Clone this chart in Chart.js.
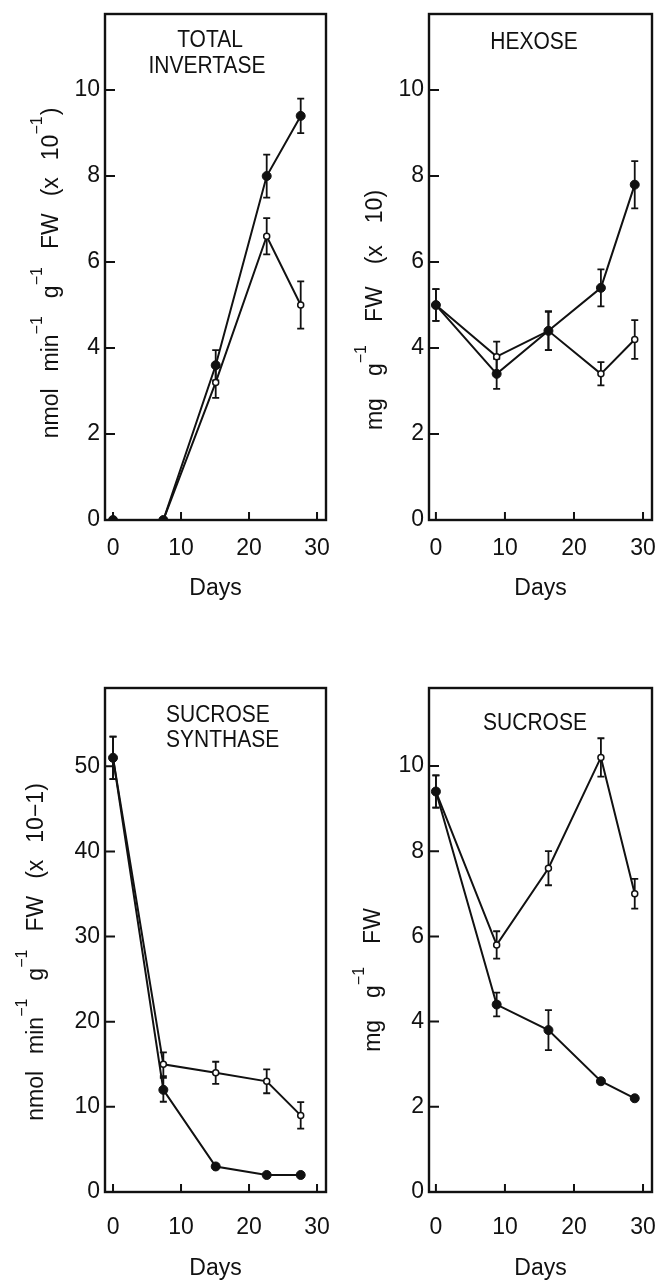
<!DOCTYPE html>
<html lang="en">
<head>
<meta charset="UTF-8">
<title>Invertase, sucrose synthase and sugars</title>
<style>
  body { margin: 0; background: #fff; }
  .wrap { position: relative; width: 657px; height: 1282px; }
  .wrap canvas { position: absolute; }
</style>
</head>
<body>
<div class="wrap">
  <canvas id="inv" width="330" height="640" style="left:0;top:0"></canvas>
  <canvas id="hex" width="327" height="640" style="left:330px;top:0"></canvas>
  <canvas id="sus" width="330" height="642" style="left:0;top:640px"></canvas>
  <canvas id="suc" width="327" height="642" style="left:330px;top:640px"></canvas>
</div>
<script src="https://cdn.jsdelivr.net/npm/chart.js"></script>
<script>
// sampling days (left column / right column)
const daysLeft = [0, 7.4, 15.1, 22.6, 27.6];
const daysRight = [0, 8.8, 16.3, 23.9, 28.8];

// total invertase, nmol min-1 g-1 FW (x 10-1)
const invFilled = [0, 0, 3.6, 8.0, 9.4];
const invFilledErr = [0, 0, 0.35, 0.5, 0.4];
const invOpen = [0, 0, 3.2, 6.6, 5.0];
const invOpenErr = [0, 0, 0.36, 0.42, 0.55];

// hexose, mg g-1 FW (x 10)
const hexFilled = [5.0, 3.4, 4.4, 5.4, 7.8];
const hexFilledErr = [0.37, 0.35, 0.45, 0.43, 0.55];
const hexOpen = [5.0, 3.8, 4.4, 3.4, 4.2];
const hexOpenErr = [0.37, 0.35, 0.45, 0.27, 0.45];

// sucrose synthase, nmol min-1 g-1 FW (x 10-1)
const susFilled = [51, 12, 3, 2, 2];
const susFilledErr = [2.5, 1.4, 0, 0, 0];
const susOpen = [51, 15, 14, 13, 9];
const susOpenErr = [2.5, 1.4, 1.3, 1.4, 1.55];

// sucrose, mg g-1 FW
const sucFilled = [9.4, 4.4, 3.8, 2.6, 2.2];
const sucFilledErr = [0.38, 0.28, 0.47, 0, 0];
const sucOpen = [9.4, 5.8, 7.6, 10.2, 7.0];
const sucOpenErr = [0.38, 0.32, 0.4, 0.45, 0.35];

const dayTicks = [0, 10, 20, 30];
const smallTicks = [0, 2, 4, 6, 8, 10];
const susTicks = [0, 10, 20, 30, 40, 50];

const INK = '#111';
const FAMILY = '"Liberation Sans", Arial, sans-serif';

Chart.defaults.font.family = FAMILY;
Chart.defaults.color = INK;

// error bars underneath, frame / inward ticks / labels on top
const framePlugin = {
  id: 'frame',
  beforeDatasetsDraw(chart) {
    const ctx = chart.ctx, xs = chart.scales.x, ys = chart.scales.y;
    ctx.save();
    ctx.strokeStyle = INK;
    ctx.lineWidth = 1.8;
    chart.data.datasets.forEach(ds => {
      ds.err.forEach((e, i) => {
        if (!e) return;
        const p = ds.data[i];
        const x = xs.getPixelForValue(p.x);
        const y1 = ys.getPixelForValue(p.y + e);
        const y2 = ys.getPixelForValue(p.y - e);
        ctx.beginPath();
        ctx.moveTo(x, y1); ctx.lineTo(x, y2);
        ctx.moveTo(x - 3.5, y1); ctx.lineTo(x + 3.5, y1);
        ctx.moveTo(x - 3.5, y2); ctx.lineTo(x + 3.5, y2);
        ctx.stroke();
      });
    });
    ctx.restore();
  },
  afterDraw(chart, args, opts) {
    const ctx = chart.ctx, a = chart.chartArea;
    const xs = chart.scales.x, ys = chart.scales.y;
    ctx.save();
    ctx.strokeStyle = INK;
    ctx.lineWidth = 2.4;
    ctx.strokeRect(a.left, a.top, a.right - a.left, a.bottom - a.top);
    ctx.lineWidth = 2;
    ctx.beginPath();
    xs.ticks.forEach(t => {
      const x = xs.getPixelForValue(t.value);
      ctx.moveTo(x, a.bottom); ctx.lineTo(x, a.bottom - 8);
    });
    ys.ticks.forEach(t => {
      const y = ys.getPixelForValue(t.value);
      ctx.moveTo(a.left, y); ctx.lineTo(a.left + 10, y);
    });
    ctx.stroke();

    // panel title, slightly tall lettering
    ctx.fillStyle = INK;
    ctx.font = '21px ' + FAMILY;
    ctx.textBaseline = 'middle';
    ctx.textAlign = opts.titleAlign;
    opts.title.forEach(([t, x, y]) => {
      ctx.save();
      ctx.translate(x, y);
      ctx.scale(1, 1.13);
      ctx.fillText(t, 0, 0);
      ctx.restore();
    });

    drawVerticalTitle(ctx, opts.yTitle);
    ctx.restore();
  }
};

// rotated axis label; ^{..} marks a superscript
function drawVerticalTitle(ctx, spec) {
  const fMain = '23px ' + FAMILY, fSup = '16px ' + FAMILY;
  const words = spec.text.split(' ').map(w =>
    w.split(/(\^\{[^}]*\})/).filter(s => s).map(s =>
      s.startsWith('^{') ? { t: s.slice(2, -1), sup: true } : { t: s, sup: false }));
  let total = 0;
  words.forEach((w, i) => {
    w.forEach(p => {
      ctx.font = p.sup ? fSup : fMain;
      p.w = ctx.measureText(p.t).width + (p.sup ? 1 : 0);
      total += p.w;
    });
    if (i) total += spec.gap;
  });
  ctx.save();
  ctx.translate(spec.x, spec.y);
  ctx.rotate(-Math.PI / 2);
  ctx.textAlign = 'left';
  ctx.textBaseline = 'alphabetic';
  let pos = -total / 2;
  words.forEach((w, i) => {
    if (i) pos += spec.gap;
    w.forEach(p => {
      ctx.font = p.sup ? fSup : fMain;
      ctx.fillText(p.t, pos, p.sup ? -16 : 0);
      pos += p.w;
    });
  });
  ctx.restore();
}

function series(days, vals, errs, filled) {
  return {
    data: days.map((d, i) => ({ x: d, y: vals[i] })),
    err: errs,
    borderColor: INK,
    borderWidth: 2,
    pointRadius: filled ? 4.5 : 3,
    pointBackgroundColor: filled ? INK : '#fff',
    pointBorderColor: INK,
    pointBorderWidth: filled ? 1 : 1.5,
    tension: 0,
    fill: false
  };
}

// keep scales from pushing the plot frame around
function noPad(s) {
  s.paddingLeft = 0; s.paddingRight = 0;
  s.paddingTop = 0; s.paddingBottom = 0;
}

function panel(id, p) {
  const cv = document.getElementById(id);
  const W = cv.width, H = cv.height;
  return new Chart(cv, {
    type: 'line',
    data: {
      datasets: [
        series(p.days, p.filled, p.filledErr, true),
        series(p.days, p.open, p.openErr, false)
      ]
    },
    options: {
      responsive: false,
      animation: false,
      devicePixelRatio: 1,
      layout: { autoPadding: false, padding: { left: 0, top: p.box[2], right: W - p.box[1], bottom: 0 } },
      plugins: {
        legend: { display: false },
        tooltip: { enabled: false },
        frame: { title: p.title, titleAlign: p.titleAlign, yTitle: p.yTitle }
      },
      scales: {
        x: {
          type: 'linear',
          min: p.xRange[0], max: p.xRange[1],
          afterBuildTicks: s => { s.ticks = dayTicks.map(v => ({ value: v })); },
          afterFit: s => { s.height = H - p.box[3]; noPad(s); },
          grid: { display: false, drawTicks: false },
          border: { display: false },
          ticks: { font: { size: 23 }, color: INK, padding: p.xPad, maxRotation: 0 },
          title: { display: true, text: 'Days', font: { size: 23 }, color: INK, padding: { top: 0, bottom: p.daysPad } }
        },
        y: {
          type: 'linear',
          min: 0, max: p.yMax,
          afterBuildTicks: s => { s.ticks = p.yTicks.map(v => ({ value: v })); },
          afterFit: s => { s.width = p.box[0]; noPad(s); },
          grid: { display: false, drawTicks: false },
          border: { display: false },
          ticks: { font: { size: 23 }, color: INK, padding: 5 }
        }
      }
    },
    plugins: [framePlugin]
  });
}

// box = [left, right, top, bottom] of the plotting frame inside each canvas
panel('inv', {
  days: daysLeft, filled: invFilled, filledErr: invFilledErr, open: invOpen, openErr: invOpenErr,
  box: [105, 326, 14, 520], xRange: [-1.18, 31.32], yMax: 11.77, yTicks: smallTicks,
  xPad: 15, daysPad: 38,
  title: [['TOTAL', 210, 40], ['INVERTASE', 207, 66]], titleAlign: 'center',
  yTitle: { text: 'nmol min^{−1} g^{−1} FW (x 10^{−1})', x: 58, y: 273, gap: 17 }
});

panel('hex', {
  days: daysRight, filled: hexFilled, filledErr: hexFilledErr, open: hexOpen, openErr: hexOpenErr,
  box: [99, 322, 14, 520], xRange: [-1.0, 31.3], yMax: 11.77, yTicks: smallTicks,
  xPad: 15, daysPad: 38,
  title: [['HEXOSE', 204, 42]], titleAlign: 'center',
  yTitle: { text: 'mg g^{−1} FW (x 10)', x: 52, y: 310, gap: 22 }
});

panel('sus', {
  days: daysLeft, filled: susFilled, filledErr: susFilledErr, open: susOpen, openErr: susOpenErr,
  box: [105, 326, 48, 552], xRange: [-1.18, 31.32], yMax: 59.2, yTicks: susTicks,
  xPad: 22, daysPad: 0,
  title: [['SUCROSE', 166, 75], ['SYNTHASE', 166, 100]], titleAlign: 'left',
  yTitle: { text: 'nmol min^{−1} g^{−1} FW (x 10−1)', x: 43, y: 312, gap: 17 }
});

panel('suc', {
  days: daysRight, filled: sucFilled, filledErr: sucFilledErr, open: sucOpen, openErr: sucOpenErr,
  box: [99, 322, 48, 552], xRange: [-1.0, 31.3], yMax: 11.83, yTicks: smallTicks,
  xPad: 22, daysPad: 0,
  title: [['SUCROSE', 205, 83]], titleAlign: 'center',
  yTitle: { text: 'mg g^{−1} FW', x: 50, y: 340, gap: 22 }
});
</script>
</body>
</html>
